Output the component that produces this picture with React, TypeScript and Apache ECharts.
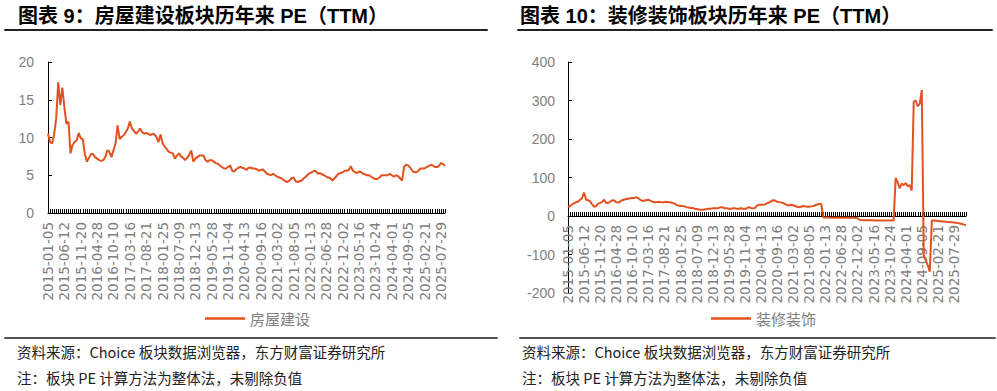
import React, { useEffect, useRef } from "react";
import * as echarts from "echarts";

const dateTicks = [
  "2015-01-05", "2015-06-12", "2015-11-20", "2016-04-28", "2016-10-10",
  "2017-03-16", "2017-08-21", "2018-01-25", "2018-07-09", "2018-12-13",
  "2019-05-28", "2019-11-04", "2020-04-13", "2020-09-16", "2021-03-02",
  "2021-08-05", "2022-01-13", "2022-06-28", "2022-12-02", "2023-05-16",
  "2023-10-24", "2024-04-01", "2024-09-05", "2025-02-21", "2025-07-29",
];

const titles = [
  "图表 9：房屋建设板块历年来 PE（TTM）",
  "图表 10：装修装饰板块历年来 PE（TTM）",
];
const seriesNames = ["房屋建设", "装修装饰"];
const sourceNote = "资料来源：Choice 板块数据浏览器，东方财富证券研究所";
const methodNote = "注：板块 PE 计算方法为整体法，未剔除负值";

const housingPE = [
  10.5, 9.4, 9.2, 10.4, 12.5, 17.3, 14.3, 16.6, 14.0, 11.8,
  12.1, 7.9, 9.0, 9.4, 9.6, 10.6, 9.9, 9.8, 7.8, 6.8,
  7.3, 7.8, 7.8, 7.4, 7.2, 7.0, 6.9, 7.0, 7.4, 8.3,
  8.1, 7.4, 8.3, 9.2, 11.6, 9.8, 10.1, 10.3, 10.7, 11.2,
  12.1, 11.2, 10.9, 10.5, 10.8, 11.2, 10.7, 10.5, 10.6, 10.5,
  10.3, 10.5, 10.4, 10.1, 9.4, 10.4, 9.2, 8.8, 8.5, 8.1,
  8.0, 7.9, 7.2, 7.6, 7.9, 7.5, 7.3, 7.0, 7.3, 7.7,
  8.3, 6.8, 7.2, 7.4, 7.6, 7.6, 7.6, 7.0, 6.8, 7.0,
  7.0, 6.8, 6.6, 6.5, 6.3, 6.1, 5.9, 5.9, 6.1, 6.3,
  5.6, 5.5, 5.8, 6.0, 6.1, 6.0, 5.9, 5.7, 6.0, 6.0,
  5.9, 5.9, 5.8, 5.6, 5.7, 5.75, 5.5, 5.2, 5.1, 5.0,
  5.2, 5.0, 4.8, 4.7, 4.6, 4.4, 4.2, 4.1, 4.3, 4.6,
  4.7, 4.2, 4.1, 4.2, 4.3, 4.6, 4.8, 5.1, 5.3, 5.4,
  5.6, 5.5, 5.2, 5.3, 5.1, 5.0, 4.8, 4.7, 4.6, 4.3,
  4.6, 4.9, 5.2, 5.3, 5.4, 5.6, 5.6, 5.7, 6.2, 5.6,
  5.4, 5.3, 5.5, 5.4, 5.2, 5.1, 5.0, 5.0, 4.8, 4.6,
  4.5, 4.5, 4.7, 5.0, 5.0, 5.0, 5.0, 5.2, 5.0, 4.8,
  5.0, 4.9, 4.6, 4.3, 6.1, 6.4, 6.3, 6.0, 5.6, 5.4,
  5.4, 5.6, 5.9, 5.9, 5.9, 6.1, 6.2, 6.4, 6.3, 6.1,
  6.1, 6.2, 6.6, 6.5, 6.2,
];

const decorationPE = [
  23.5, 26, 30, 33, 36, 37, 42, 46, 61, 42,
  41, 38, 30, 24, 26, 32, 34, 37, 42, 34,
  34, 37, 41, 40, 36, 35, 38, 41, 43, 44,
  45, 46, 47, 47, 49, 46, 42, 39, 40, 41,
  42, 40, 37, 36, 36, 37, 36, 35, 36, 37,
  36, 35, 34, 32, 29, 27, 26, 26, 25, 23,
  22, 21, 21, 19, 18, 17, 16, 16, 17, 18,
  19, 19, 20, 20, 20, 21, 23, 22, 20, 20,
  19, 19, 20, 20, 19, 19, 20, 19, 19, 20,
  23, 21, 20, 21, 27, 29, 29, 29, 30, 33,
  35, 38, 41, 40, 37, 36, 35, 34, 31, 28,
  28, 29, 28, 26, 24, 23, 24, 26, 25, 24,
  24, 25, 26, 28, 30, 31, 31,
  -4, -4, -4, -4.2, -4.3, -4.3, -4.5, -4.5, -4.4, -4.5,
  -4.6, -4.6, -4.5, -4.7, -4.8, -4.8, -5, -5,
  -10, -10.5, -10.8, -11, -11, -11.2, -11, -11.3, -11.5, -11.4,
  -11.5, -11.6, -11.5, -11.7, -11.8, -11.6, -11.8, -12,
  99, 88, 72, 84, 80, 86, 77, 80, 66,
  297, 300, 285, 292, 327,
  -102, -115, -128, -145,
  -12, -12, -12.5, -13, -13.5, -14, -14.5, -15, -15.5, -16,
  -16.5, -17, -17.5, -18.5, -19.5, -21, -22.5, -24,
];

const POINTS_PER_TICK = 8;

function buildCategories(ticks: string[], per: number, total: number): string[] {
  const ms = ticks.map((d) => Date.parse(d + "T00:00:00Z"));
  const last = ms.length - 1;
  const step = ms[last] - ms[last - 1];
  const out: string[] = [];
  for (let i = 0; i < total; i++) {
    const k = Math.floor(i / per);
    const r = i % per;
    if (r === 0 && k <= last) {
      out.push(ticks[k]);
      continue;
    }
    let a: number, b: number;
    if (k < last) {
      a = ms[k];
      b = ms[k + 1];
    } else {
      a = ms[last] + (k - last) * step;
      b = a + step;
    }
    const t = a + ((b - a) * r) / per;
    out.push(new Date(t).toISOString().slice(0, 10));
  }
  return out;
}

const LINE_COLOR = "#E2521E";
const AXIS_TEXT = "#7f7f7f";
const LATIN = '"Liberation Sans", Arial, sans-serif';
const CJK = '"Noto Sans CJK SC", sans-serif';

// decorative horizontal rules (drawn as bare axis lines of empty grids)
const rules = [
  { left: 5, y: 30, width: 482, color: "#222" },
  { left: 518, y: 30, width: 474, color: "#222" },
  { left: 5, y: 338, width: 492, color: "#555" },
  { left: 520, y: 338, width: 475, color: "#555" },
];

export default function App() {
  const ref = useRef<HTMLDivElement>(null);

  useEffect(() => {
    document.body.style.margin = "0";
    if (!ref.current) return;
    const chart = echarts.init(ref.current, undefined, { renderer: "svg" });
    const cats0 = buildCategories(dateTicks, POINTS_PER_TICK, housingPE.length);
    const cats1 = buildCategories(dateTicks, POINTS_PER_TICK, decorationPE.length);

    const xAxisBase = (gridIndex: number, data: string[], offset: number) => ({
      type: "category",
      gridIndex,
      data,
      position: "bottom",
      offset,
      boundaryGap: false,
      axisLine: { show: true, onZero: false, lineStyle: { color: "#000", width: 1 } },
      axisTick: { show: true, interval: 0, inside: true, length: 4, lineStyle: { color: "#000", width: 1 } },
      axisLabel: {
        interval: POINTS_PER_TICK - 1,
        rotate: 90,
        margin: 9,
        fontSize: 13.5,
        color: AXIS_TEXT,
        fontFamily: '"DejaVu Sans", sans-serif',
      },
      splitLine: { show: false },
    });

    const yAxisBase = (gridIndex: number, min: number, max: number, interval: number, margin: number) => ({
      type: "value",
      gridIndex,
      min,
      max,
      interval,
      axisLine: { show: true, onZero: false, lineStyle: { color: "#000", width: 1 } },
      axisTick: { show: true, inside: true, length: 4, lineStyle: { color: "#000" } },
      axisLabel: { margin, fontSize: 14, color: AXIS_TEXT, fontFamily: LATIN },
      splitLine: { show: false },
    });

    const legendBase = (name: string, left: number) => ({
      data: [{ name, icon: "rect" }],
      left,
      top: 306,
      itemWidth: 40,
      itemHeight: 2.5,
      itemGap: 5,
      textStyle: { fontSize: 15, color: AXIS_TEXT, fontFamily: CJK },
    });

    const titleFont = `bold 20px "Liberation Sans", "Noto Sans CJK SC", sans-serif`;
    const noteFont = `14.5px "Noto Sans CJK SC", sans-serif`;

    const text = (left: number, top: number, t: string, font: string, fill: string) => ({
      type: "text",
      left,
      top,
      style: { text: t, font, fill },
    });

    const ruleGrids = rules.map((r) => ({ left: r.left, top: r.y - 10, width: r.width, height: 10 }));
    const ruleX = rules.map((r, i) => ({
      type: "value",
      gridIndex: 2 + i,
      min: 0,
      max: 1,
      position: "bottom",
      axisLine: { show: true, onZero: false, lineStyle: { color: r.color, width: 2 } },
      axisTick: { show: false },
      axisLabel: { show: false },
      splitLine: { show: false },
    }));
    const ruleY = rules.map((_, i) => ({
      type: "value",
      gridIndex: 2 + i,
      min: 0,
      max: 1,
      show: false,
    }));

    const option: any = {
      animation: false,
      grid: [
        { left: 48, top: 62, width: 397, height: 151 },
        { left: 568, top: 62, width: 398, height: 231 },
        ...ruleGrids,
      ],
      xAxis: [xAxisBase(0, cats0, 0), xAxisBase(1, cats1, -77), ...ruleX],
      yAxis: [yAxisBase(0, 0, 20, 5, 14), yAxisBase(1, -200, 400, 100, 13), ...ruleY],
      legend: [legendBase(seriesNames[0], 200), legendBase(seriesNames[1], 706)],
      series: [
        {
          name: seriesNames[0],
          type: "line",
          xAxisIndex: 0,
          yAxisIndex: 0,
          data: housingPE,
          symbol: "none",
          lineStyle: { color: LINE_COLOR, width: 2 },
          itemStyle: { color: LINE_COLOR },
        },
        {
          name: seriesNames[1],
          type: "line",
          xAxisIndex: 1,
          yAxisIndex: 1,
          data: decorationPE,
          symbol: "none",
          lineStyle: { color: LINE_COLOR, width: 2 },
          itemStyle: { color: LINE_COLOR },
        },
      ],
      graphic: {
        elements: [
          text(18, 6, titles[0], titleFont, "#000"),
          text(520, 6, titles[1], titleFont, "#000"),
          text(17, 344, sourceNote, noteFont, "#222"),
          text(17, 370, methodNote, noteFont, "#222"),
          text(522, 344, sourceNote, noteFont, "#222"),
          text(522, 370, methodNote, noteFont, "#222"),
        ],
      },
    };
    chart.setOption(option);
    return () => chart.dispose();
  }, []);

  return (
    <div style={{ position: "absolute", left: 0, top: 0, width: 997, height: 391, background: "#fff" }}>
      <div ref={ref} style={{ position: "absolute", left: 0, top: 0, width: 997, height: 391 }} />
    </div>
  );
}
